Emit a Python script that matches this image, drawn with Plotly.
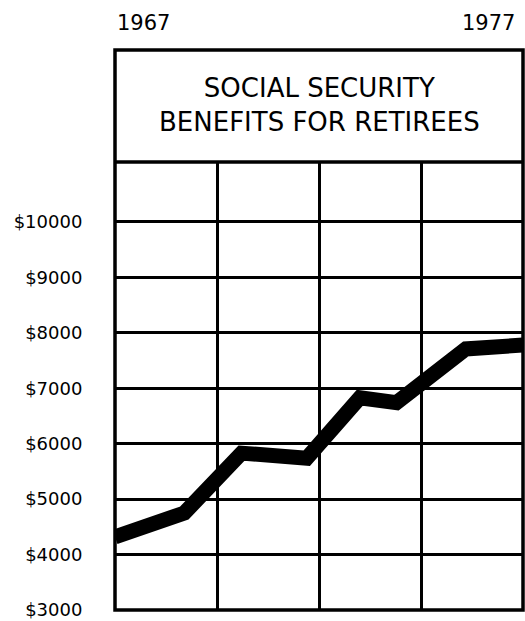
import plotly.graph_objects as go

years = [1967.0, 1968.7, 1970.1, 1971.7, 1973.0, 1973.9, 1975.6, 1977.0]
benefits = [4320, 4750, 5830, 5740, 6830, 6740, 7710, 7780]
y_ticks = [3000, 4000, 5000, 6000, 7000, 8000, 9000, 10000]
y_labels = ["$3000", "$4000", "$5000", "$6000", "$7000", "$8000", "$9000", "$10000"]
x_labels = ["1967", "1977"]
title_lines = ["SOCIAL SECURITY", "BENEFITS FOR RETIREES"]

FONT = "DejaVu Sans"

fig = go.Figure()
fig.add_trace(go.Scatter(
    x=years, y=benefits, mode="lines",
    line=dict(color="black", width=15),
    hoverinfo="skip", showlegend=False,
))

fig.update_layout(
    width=525, height=621,
    margin=dict(l=115, r=2, t=50, b=11),
    paper_bgcolor="white", plot_bgcolor="white",
    showlegend=False,
    xaxis=dict(
        range=[1967, 1977], tick0=1967, dtick=2.5,
        showgrid=True, gridcolor="black", gridwidth=3,
        showticklabels=False, zeroline=False, showline=False, ticks="",
    ),
    yaxis=dict(
        domain=[0, 0.8], range=[3000, 11082],
        tickvals=y_ticks, ticktext=y_labels,
        showgrid=True, gridcolor="black", gridwidth=3,
        zeroline=False, showline=False,
        ticks="outside", ticklen=28, tickcolor="rgba(0,0,0,0)",
        tickfont=dict(family=FONT, size=18, color="black"),
    ),
    shapes=[
        dict(type="rect", xref="paper", yref="paper", x0=0, x1=1, y0=0, y1=1,
             line=dict(color="black", width=3.5)),
        dict(type="line", xref="paper", yref="paper", x0=0, x1=1, y0=0.8, y1=0.8,
             line=dict(color="black", width=3.5)),
    ],
    annotations=[
        dict(text="<br>".join(title_lines), xref="paper", yref="paper",
             x=0.5, y=0.902, xanchor="center", yanchor="middle", showarrow=False,
             font=dict(family=FONT, size=26, color="black")),
        dict(text=x_labels[0], xref="x", yref="paper", x=1967, y=1.0,
             xanchor="left", yanchor="bottom", yshift=13, showarrow=False,
             font=dict(family=FONT, size=21, color="black")),
        dict(text=x_labels[1], xref="x", yref="paper", x=1977, y=1.0,
             xanchor="right", yanchor="bottom", yshift=13, xshift=-6, showarrow=False,
             font=dict(family=FONT, size=21, color="black")),
    ],
)

fig.write_html(
    "out.html",
    config={"displayModeBar": False},
    post_script="document.body.style.margin='0';document.body.style.overflow='hidden';",
)
